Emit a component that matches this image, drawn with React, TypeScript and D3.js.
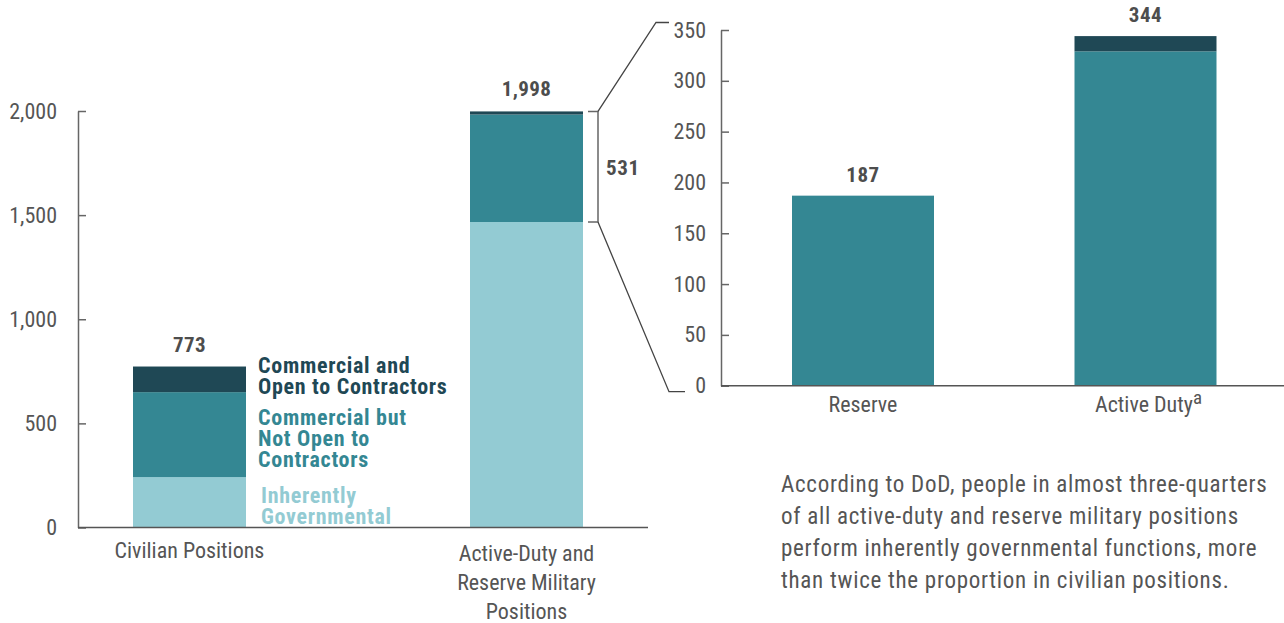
import { useEffect, useRef } from "react"
import * as d3 from "d3"

// left chart: all positions (thousands)
const categories = ["Civilian Positions", "Active-Duty and Reserve Military Positions"]
const inherentlyGov = [242, 1467]
const commercialNotOpen = [408, 516]
const commercialOpen = [123, 15]
const totals = [773, 1998]
const leftTicks = [0, 500, 1000, 1500, 2000]

// right chart: military commercial positions
const milCategories = ["Reserve", "Active Duty"]
const milNotOpen = [187, 329]
const milOpen = [0, 15]
const milTotals = [187, 344]
const milCommercialTotal = 531
const rightTicks = [0, 50, 100, 150, 200, 250, 300, 350]

const caption = [
  "According to DoD, people in almost three-quarters",
  "of all active-duty and reserve military positions",
  "perform inherently governmental functions, more",
  "than twice the proportion in civilian positions.",
]

const COLORS = ["#93cbd3", "#348793", "#1f4855"]
const FONT = "'Liberation Sans Narrow', 'Roboto Condensed', 'DejaVu Sans Condensed', Roboto, sans-serif"
const GRAY = "#555"

const App = () => {
  const svgRef = useRef<SVGSVGElement>(null)

  useEffect(() => {
    const svg = d3.select(svgRef.current)
    svg.selectAll("*").remove()
    svg.style("font-family", FONT)

    // ---------- left chart ----------
    const y = d3.scaleLinear().domain([0, 2000]).range([527.5, 111])
    const x = d3.scalePoint().domain(categories).range([189.5, 526.5])
    const barW = 113

    const rows = categories.map((c, i) => ({
      cat: c, a: inherentlyGov[i], b: commercialNotOpen[i], c2: commercialOpen[i],
    }))
    const stack = d3.stack<any>().keys(["a", "b", "c2"])(rows)

    const left = svg.append("g")
    stack.forEach((layer, li) => {
      left.selectAll(null).data(layer).join("rect")
        .attr("x", (d: any) => x(d.data.cat)! - barW / 2)
        .attr("width", barW)
        .attr("y", (d) => y(d[1]))
        .attr("height", (d) => y(d[0]) - y(d[1]))
        .attr("fill", COLORS[li])
    })

    const yAxis = d3.axisLeft(y).tickValues(leftTicks).tickSize(-8).tickSizeOuter(0).tickPadding(21)
      .tickFormat(d3.format(","))
    const ga = left.append("g").attr("transform", "translate(78,0)").call(yAxis)
    ga.select(".domain").attr("stroke", "#666").attr("stroke-width", 1.5)
    ga.selectAll(".tick line").attr("stroke", "#666").attr("stroke-width", 1.5)
    ga.selectAll(".tick text").attr("fill", GRAY).style("font-size", "22px").style("font-family", FONT)

    left.append("line").attr("x1", 78).attr("x2", 648).attr("y1", y(0)).attr("y2", y(0))
      .attr("stroke", GRAY).attr("stroke-width", 1.5)

    left.selectAll(".tot").data(totals).join("text")
      .attr("x", (d, i) => x(categories[i])!)
      .attr("y", (d) => y(d) - 15)
      .attr("text-anchor", "middle").attr("font-weight", "bold").attr("font-size", 21)
      .attr("letter-spacing", 0.4).attr("fill", "#4d4d4d")
      .text((d) => d3.format(",")(d))

    const catLines = [["Civilian Positions"], ["Active-Duty and", "Reserve Military", "Positions"]]
    catLines.forEach((lines, i) => {
      const t = left.append("text").attr("text-anchor", "middle").attr("fill", GRAY).attr("font-size", 22)
      lines.forEach((l, j) => {
        t.append("tspan").attr("x", x(categories[i])!).attr("y", (i === 0 ? 558 : 561) + j * 29).text(l)
      })
    })

    // legend labels next to civilian bar
    const legend = [
      { lines: ["Commercial and", "Open to Contractors"], y0: 373, color: COLORS[2], x: 258 },
      { lines: ["Commercial but", "Not Open to", "Contractors"], y0: 425, color: COLORS[1], x: 258 },
      { lines: ["Inherently", "Governmental"], y0: 503, color: COLORS[0], x: 261 },
    ]
    legend.forEach((lg) => {
      lg.lines.forEach((l, j) =>
        left.append("text").attr("x", lg.x).attr("y", lg.y0 + j * 21)
          .attr("fill", lg.color).attr("font-weight", "bold").attr("font-size", 22)
          .attr("letter-spacing", 0.7).text(l))
    })

    // bracket for commercial military positions
    const bTop = y(totals[1]), bBot = y(inherentlyGov[1])
    left.append("path")
      .attr("d", `M588,${bTop}H598V${bBot}H588`)
      .attr("fill", "none").attr("stroke", "#666").attr("stroke-width", 1.5)
    left.append("text").attr("x", 606).attr("y", (bTop + bBot) / 2 + 8)
      .attr("font-weight", "bold").attr("font-size", 21).attr("letter-spacing", 0.6)
      .attr("fill", "#4d4d4d").text(milCommercialTotal)

    // ---------- right chart ----------
    const y2 = d3.scaleLinear().domain([0, 350]).range([385.7, 30])
    const x2 = d3.scalePoint().domain(milCategories).range([863, 1145.5])
    const barW2 = 142

    // connector lines
    left.append("path")
      .attr("d", `M598,${bTop}L656,${y2(350) - 7.5}H669`)
      .attr("fill", "none").attr("stroke", "#444").attr("stroke-width", 1.3)
    left.append("path")
      .attr("d", `M598,${bBot}L669,${y2(0) + 6}H685`)
      .attr("fill", "none").attr("stroke", "#444").attr("stroke-width", 1.3)

    const right = svg.append("g")
    const rows2 = milCategories.map((c, i) => ({ cat: c, b: milNotOpen[i], c2: milOpen[i] }))
    const stack2 = d3.stack<any>().keys(["b", "c2"])(rows2)
    stack2.forEach((layer, li) => {
      right.selectAll(null).data(layer).join("rect")
        .attr("x", (d: any) => x2(d.data.cat)! - barW2 / 2)
        .attr("width", barW2)
        .attr("y", (d) => y2(d[1]))
        .attr("height", (d) => y2(d[0]) - y2(d[1]))
        .attr("fill", COLORS[li + 1])
    })

    const yAxis2 = d3.axisLeft(y2).tickValues(rightTicks).tickSize(-8).tickSizeOuter(0).tickPadding(15)
    const gb = right.append("g").attr("transform", "translate(721,0)").call(yAxis2)
    gb.select(".domain").attr("stroke", "#666").attr("stroke-width", 1.5)
    gb.selectAll(".tick line").attr("stroke", "#666").attr("stroke-width", 1.5)
    gb.selectAll(".tick text").attr("fill", GRAY).style("font-size", "22px").style("font-family", FONT)

    right.append("line").attr("x1", 721).attr("x2", 1284).attr("y1", y2(0)).attr("y2", y2(0))
      .attr("stroke", GRAY).attr("stroke-width", 1.5)

    right.selectAll(".tot").data(milTotals).join("text")
      .attr("x", (d, i) => x2(milCategories[i])!)
      .attr("y", (d) => y2(d) - 14)
      .attr("text-anchor", "middle").attr("font-weight", "bold").attr("font-size", 21)
      .attr("letter-spacing", 0.5).attr("fill", "#4d4d4d")
      .text((d) => d)

    milCategories.forEach((c, i) => {
      const t = right.append("text").attr("x", x2(c)! + (i === 1 ? 3 : 0)).attr("y", 412)
        .attr("text-anchor", "middle").attr("fill", GRAY).attr("font-size", 22)
      t.append("tspan").text(c)
      if (i === 1) t.append("tspan").attr("dy", -8).attr("font-size", 19).text("a")
    })

    // caption
    caption.forEach((l, j) =>
      right.append("text").attr("x", 781).attr("y", 492 + j * 32)
        .attr("fill", GRAY).attr("font-size", 23).attr("letter-spacing", 0.72).text(l))
  }, [])

  return (
    <div>
      <svg ref={svgRef} width={1284} height={623} style={{ position: "absolute", left: 0, top: 0 }} />
    </div>
  )
}

export default App
